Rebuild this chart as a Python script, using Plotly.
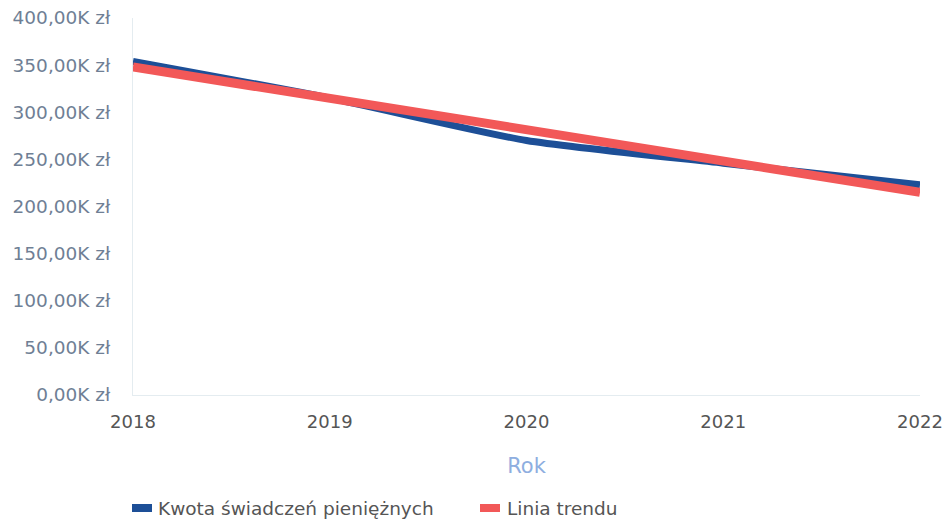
import plotly.graph_objects as go

years = [2018, 2019, 2020, 2021, 2022]
kwota = [354000, 315000, 270000, 246000, 223000]
trend = [348000, 315000, 282000, 248000, 215000]
y_tick_vals = [0, 50000, 100000, 150000, 200000, 250000, 300000, 350000, 400000]
y_tick_text = ["0,00K zł", "50,00K zł", "100,00K zł", "150,00K zł", "200,00K zł",
               "250,00K zł", "300,00K zł", "350,00K zł", "400,00K zł"]
x_tick_text = ["2018", "2019", "2020", "2021", "2022"]
legend_names = ["Kwota świadczeń pieniężnych", "Linia trendu"]

BLUE = "#1d4f97"
RED = "#f25858"
FONT = "DejaVu Sans"

W, H = 945, 524
L, R, T, B = 133, 25, 18, 129
PW = W - L - R
PH = H - T - B

def px_x(px):  # screen px -> paper x
    return (px - L) / PW

def px_y(py):  # screen px -> paper y
    return (H - B - py) / PH

fig = go.Figure()
fig.add_trace(go.Scatter(x=years, y=kwota, mode="lines",
                         line=dict(color=BLUE, width=7, shape="spline", smoothing=0.6),
                         showlegend=False, name=legend_names[0]))
fig.add_trace(go.Scatter(x=years, y=trend, mode="lines", line=dict(color=RED, width=9),
                         showlegend=False, name=legend_names[1]))

# custom legend (wide rectangular swatches as in reference)
legend_y = px_y(508)
for color, name, sx, tx in [(BLUE, legend_names[0], 132, 156), (RED, legend_names[1], 480, 505)]:
    fig.add_shape(type="rect", xref="paper", yref="paper", xsizemode="pixel", ysizemode="pixel",
                  xanchor=px_x(sx), yanchor=legend_y, x0=0, x1=20, y0=-4, y1=4,
                  fillcolor=color, line=dict(width=0))
    fig.add_annotation(text=name, xref="paper", yref="paper", x=px_x(tx), y=legend_y,
                       xanchor="left", yanchor="middle", showarrow=False,
                       font=dict(family=FONT, size=18.5, color="#555555"))

fig.update_layout(
    width=W, height=H,
    margin=dict(l=L, r=R, t=T, b=B, autoexpand=False),
    paper_bgcolor="white", plot_bgcolor="white",
    font=dict(family=FONT, size=17, color="#555555"),
    showlegend=False,
)
fig.update_xaxes(
    range=[2018, 2022], tickvals=years, ticktext=x_tick_text, automargin=False,
    showgrid=False, zeroline=False, showline=True, linecolor="#e4ecf0", linewidth=1,
    ticks="", tickfont=dict(family=FONT, size=18, color="#555555"), ticklabelstandoff=10,
    ticklabeloverflow="allow",
    title=dict(text="Rok", font=dict(family=FONT, size=21, color="#8eaee0"), standoff=27),
)
fig.update_yaxes(
    range=[0, 400000], tickvals=y_tick_vals, ticktext=y_tick_text, automargin=False,
    showgrid=False, zeroline=False, showline=True, linecolor="#e4ecf0", linewidth=1,
    ticks="", tickfont=dict(family=FONT, size=18.5, color="#6f7f95"), ticklabelstandoff=18,
    ticklabeloverflow="allow",
)

fig.write_html("out.html", config={"displayModeBar": False},
               post_script="document.body.style.margin='0';document.body.style.overflow='hidden';")
